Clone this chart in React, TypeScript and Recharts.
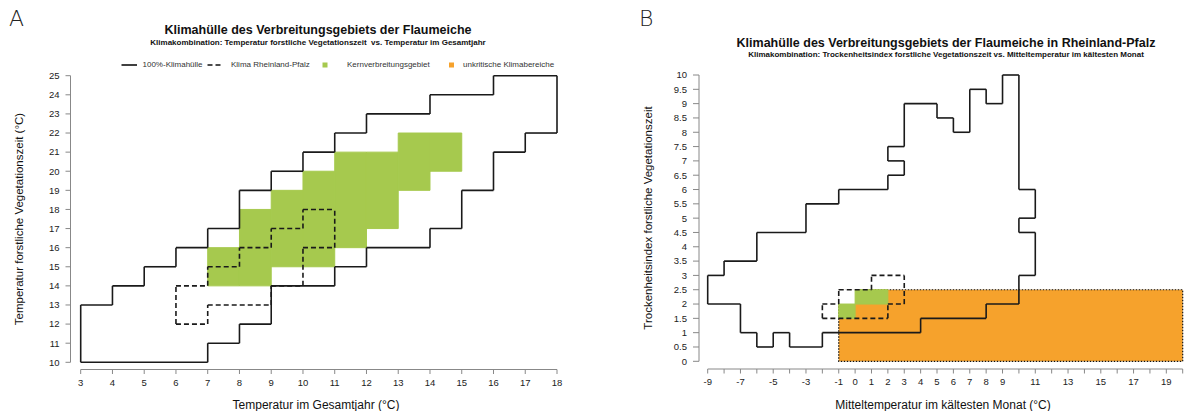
import React from 'react';
import { ComposedChart, XAxis, YAxis, ReferenceArea, ReferenceLine } from 'recharts';

// ---------- Panel A: Temperatur forstliche Vegetationszeit vs. Temperatur im Gesamtjahr
// one entry = one 1 °C column (x .. x+1), filled from lo to hi
const envAX = [3, 4, 5, 6, 7, 8, 9, 10, 11, 12, 13, 14, 15, 16, 17];
const envALo = [10, 10, 10, 10, 11, 12, 14, 14, 15, 16, 16, 17, 19, 21, 22];
const envAHi = [13, 14, 15, 16, 17, 19, 20, 21, 22, 23, 23, 24, 24, 25, 25];

const rlpAX = [6, 7, 8, 9, 10];
const rlpALo = [12, 13, 13, 14, 16];
const rlpAHi = [14, 15, 16, 17, 18];

const coreAX = [7, 8, 9, 10, 11, 12, 13, 14];
const coreALo = [14, 14, 15, 15, 16, 17, 19, 20];
const coreAHi = [16, 18, 19, 20, 21, 21, 22, 22];

const ticksAX = [3, 4, 5, 6, 7, 8, 9, 10, 11, 12, 13, 14, 15, 16, 17, 18];
const ticksAY = [10, 11, 12, 13, 14, 15, 16, 17, 18, 19, 20, 21, 22, 23, 24, 25];

// ---------- Panel B: Trockenheitsindex vs. Mitteltemperatur im kältesten Monat
// columns are 1 °C wide, index in steps of 0.5 (a column may appear twice)
const envBX = [-9, -8, -7, -6, -5, -4, -3, -2, -1, 0, 1, 2, 2, 3, 4, 5, 6, 7, 8, 9, 10, 10];
const envBLo = [2, 2, 1, 0.5, 1, 0.5, 0.5, 1, 1, 1, 1, 1, 7, 1, 1.5, 1.5, 1.5, 1.5, 2, 2, 3, 5];
const envBHi = [3, 3.5, 3.5, 4.5, 4.5, 4.5, 5.5, 5.5, 6, 6, 6, 6.5, 7.5, 9, 9, 8.5, 8, 9.5, 9, 10, 4.5, 6];

const rlpBX = [-2, -1, 0, 1, 2];
const rlpBLo = [1.5, 1.5, 1.5, 1.5, 2];
const rlpBHi = [2, 2.5, 2.5, 3, 3];

const coreBX = [-1, 0, 1];
const coreBLo = [1.5, 2, 2];
const coreBHi = [2, 2.5, 2.5];

// unkritische Klimabereiche: one block, minus one cell that is not classified
const uncritBX = [-1, 20];
const uncritBY = [0, 2.5];
const gapBX = [-1];
const gapBLo = [2];
const gapBHi = [2.5];

const ticksBX = [-9, -8, -7, -6, -5, -4, -3, -2, -1, 0, 1, 2, 3, 4, 5, 6, 7, 8, 9, 10, 11, 12, 13, 14, 15, 16, 17, 18, 19, 20];
const labelsBX = [-9, -7, -5, -3, -1, 0, 1, 2, 3, 4, 5, 6, 7, 8, 9, 11, 13, 15, 17, 19];
const ticksBY = [0, 0.5, 1, 1.5, 2, 2.5, 3, 3.5, 4, 4.5, 5, 5.5, 6, 6.5, 7, 7.5, 8, 8.5, 9, 9.5, 10];

const GREEN = '#a6c94e';
const ORANGE = '#f6a22c';
const FONT = '"Liberation Sans", Arial, sans-serif';

type Seg = { x1: number; y1: number; x2: number; y2: number };

// boundary of a set of grid cells, merged into straight runs
function outline(xs: number[], lo: number[], hi: number[], dx: number, dy: number): Seg[] {
  const cells = new Set<string>();
  xs.forEach((x, k) => {
    const i = Math.round(x / dx);
    for (let j = Math.round(lo[k] / dy); j < Math.round(hi[k] / dy); j++) cells.add(i + ',' + j);
  });
  const has = (i: number, j: number) => cells.has(i + ',' + j);
  const hor = new Map<number, number[]>();
  const ver = new Map<number, number[]>();
  const push = (m: Map<number, number[]>, k: number, v: number) => {
    if (!m.has(k)) m.set(k, []);
    m.get(k)!.push(v);
  };
  cells.forEach(key => {
    const [i, j] = key.split(',').map(Number);
    if (!has(i, j - 1)) push(hor, j, i);
    if (!has(i, j + 1)) push(hor, j + 1, i);
    if (!has(i - 1, j)) push(ver, i, j);
    if (!has(i + 1, j)) push(ver, i + 1, j);
  });
  const runs = (list: number[]) => {
    const s = Array.from(new Set(list)).sort((a, b) => a - b);
    const out: [number, number][] = [];
    let start = s[0], prev = s[0];
    for (let n = 1; n <= s.length; n++) {
      if (n < s.length && s[n] === prev + 1) { prev = s[n]; continue; }
      out.push([start, prev + 1]);
      start = s[n]; prev = s[n];
    }
    return out;
  };
  const segs: Seg[] = [];
  hor.forEach((list, j) => runs(list).forEach(([a, b]) => segs.push({ x1: a * dx, x2: b * dx, y1: j * dy, y2: j * dy })));
  ver.forEach((list, i) => runs(list).forEach(([a, b]) => segs.push({ x1: i * dx, x2: i * dx, y1: a * dy, y2: b * dy })));
  return segs;
}

const lines = (segs: Seg[], prefix: string, dash?: string) =>
  segs.map((s, n) => (
    <ReferenceLine
      key={prefix + n}
      segment={[{ x: s.x1, y: s.y1 }, { x: s.x2, y: s.y2 }]}
      stroke="#1a1a1a"
      strokeWidth={1.6}
      strokeDasharray={dash}
      ifOverflow="visible"
    />
  ));

const areas = (xs: number[], lo: number[], hi: number[], prefix: string, color: string) =>
  xs.map((x, k) => (
    <ReferenceArea
      key={prefix + k}
      x1={x}
      x2={x + 1}
      y1={lo[k]}
      y2={hi[k]}
      fill={color}
      fillOpacity={1}
      stroke={color}
      strokeWidth={1}
      ifOverflow="visible"
    />
  ));

const tickStyle = { fontSize: 9.5, fill: '#222', fontFamily: FONT };

const Txt: React.FC<{ x: number; y: number; size: number; bold?: boolean; rotate?: boolean; children: React.ReactNode }> = ({ x, y, size, bold, rotate, children }) => (
  <div
    style={{
      position: 'absolute', left: x, top: y, whiteSpace: 'nowrap', fontFamily: FONT, fontSize: size,
      fontWeight: bold ? 700 : 400, color: '#111', lineHeight: 1,
      transform: `translate(-50%, -50%)${rotate ? ' rotate(-90deg)' : ''}`,
    }}
  >
    {children}
  </div>
);

const LegendText: React.FC<{ x: number; children: React.ReactNode }> = ({ x, children }) => (
  <div style={{ position: 'absolute', left: x, top: 60, fontFamily: FONT, fontSize: 8, color: '#333', whiteSpace: 'nowrap' }}>{children}</div>
);

const App: React.FC = () => {
  const envA = outline(envAX, envALo, envAHi, 1, 1);
  const rlpA = outline(rlpAX, rlpALo, rlpAHi, 1, 1);
  const envB = outline(envBX, envBLo, envBHi, 1, 0.5);
  const rlpB = outline(rlpBX, rlpBLo, rlpBHi, 1, 0.5);

  return (
    <div style={{ position: 'absolute', left: 0, top: 0, width: 1184, height: 411, background: '#fff', overflow: 'hidden' }}>
      {/* Panel A */}
      <div style={{ position: 'absolute', left: 0, top: 0 }}>
        <ComposedChart width={600} height={411} margin={{ top: 75.7, right: 43, bottom: 11.5, left: 10.5 }}>
          <XAxis
            type="number" dataKey="x" domain={[3, 18]} allowDataOverflow ticks={ticksAX} interval={0}
            height={30} padding={{ left: 10.2 }} tickSize={4.5} tickMargin={5}
            axisLine={{ stroke: '#888', strokeDasharray: '0 10.2 1000' }} tickLine={{ stroke: '#888' }} tick={tickStyle}
          />
          <YAxis
            type="number" dataKey="y" domain={[10, 25]} allowDataOverflow ticks={ticksAY} interval={0}
            width={60} padding={{ bottom: 7.2 }} tickSize={5} tickMargin={6}
            axisLine={{ stroke: '#888', strokeDasharray: '286.6 100' }} tickLine={{ stroke: '#888' }} tick={tickStyle}
          />
          {areas(coreAX, coreALo, coreAHi, 'ca', GREEN)}
          {lines(envA, 'ea')}
          {lines(rlpA, 'ra', '5 3')}
        </ComposedChart>
      </div>

      {/* Panel B */}
      <div style={{ position: 'absolute', left: 600, top: 0 }}>
        <ComposedChart width={584} height={411} margin={{ top: 75, right: 1.3, bottom: 12, left: 49 }}>
          <XAxis
            type="number" dataKey="x" domain={[-9, 20]} allowDataOverflow ticks={ticksBX} interval={0}
            height={30} padding={{ left: 8.7 }} tickSize={4.5} tickMargin={5}
            tickFormatter={(v: number) => (labelsBX.includes(v) ? String(v) : '')}
            axisLine={{ stroke: '#888', strokeDasharray: '0 8.7 1000' }} tickLine={{ stroke: '#888' }} tick={tickStyle}
          />
          <YAxis
            type="number" dataKey="y" domain={[0, 10]} allowDataOverflow ticks={ticksBY} interval={0}
            width={50} padding={{ bottom: 7.7 }} tickSize={6} tickMargin={6}
            axisLine={{ stroke: '#888', strokeDasharray: '286.3 100' }} tickLine={{ stroke: '#888' }} tick={tickStyle}
          />
          <ReferenceArea
            x1={uncritBX[0]} x2={uncritBX[1]} y1={uncritBY[0]} y2={uncritBY[1]}
            fill={ORANGE} fillOpacity={1} stroke="#111" strokeWidth={1.2} strokeDasharray="1.5 1.5" ifOverflow="visible"
          />
          {areas(gapBX, gapBLo, gapBHi, 'gb', '#ffffff')}
          {areas(coreBX, coreBLo, coreBHi, 'cb', GREEN)}
          {lines(envB, 'eb')}
          {lines(rlpB, 'rb', '5 3')}
        </ComposedChart>
      </div>

      {/* titles */}
      <div style={{ position: 'absolute', left: 9, top: 6, fontFamily: '"DejaVu Sans", sans-serif', fontSize: 22, fontWeight: 300, color: '#222' }}>A</div>
      <div style={{ position: 'absolute', left: 639, top: 6, fontFamily: '"DejaVu Sans", sans-serif', fontSize: 22, fontWeight: 300, color: '#222' }}>B</div>

      <Txt x={318} y={30} size={12.5} bold>Klimahülle des Verbreitungsgebiets der Flaumeiche</Txt>
      <Txt x={318} y={43} size={8} bold>Klimakombination: Temperatur forstliche Vegetationszeit&nbsp; vs. Temperatur im Gesamtjahr</Txt>
      <Txt x={946} y={43} size={12.5} bold>Klimahülle des Verbreitungsgebiets der Flaumeiche in Rheinland-Pfalz</Txt>
      <Txt x={946} y={55} size={8} bold>Klimakombination: Trockenheitsindex forstliche Vegetationszeit vs. Mitteltemperatur im kältesten Monat</Txt>

      {/* legend */}
      <svg style={{ position: 'absolute', left: 0, top: 58 }} width={600} height={14}>
        <line x1={121.5} x2={137} y1={7} y2={7} stroke="#111" strokeWidth={1.6} />
        <line x1={207.5} x2={223.5} y1={7} y2={7} stroke="#111" strokeWidth={1.6} strokeDasharray="5 3" />
        <rect x={322.5} y={4.5} width={5} height={5} fill={GREEN} />
        <rect x={449} y={4.5} width={5} height={5} fill={ORANGE} />
      </svg>
      <LegendText x={142.5}>100%-Klimahülle</LegendText>
      <LegendText x={231}>Klima Rheinland-Pfalz</LegendText>
      <LegendText x={347}>Kernverbreitungsgebiet</LegendText>
      <LegendText x={463}>unkritische Klimabereiche</LegendText>

      {/* axis titles */}
      <Txt x={316} y={405} size={12}>Temperatur im Gesamtjahr (°C)</Txt>
      <Txt x={20} y={219} size={11.5} rotate>Temperatur forstliche Vegetationszeit (°C)</Txt>
      <Txt x={943} y={405} size={12}>Mitteltemperatur im kältesten Monat (°C)</Txt>
      <Txt x={649} y={218} size={11.5} rotate>Trockenheitsindex forstliche Vegetationszeit</Txt>
    </div>
  );
};

export default App;
